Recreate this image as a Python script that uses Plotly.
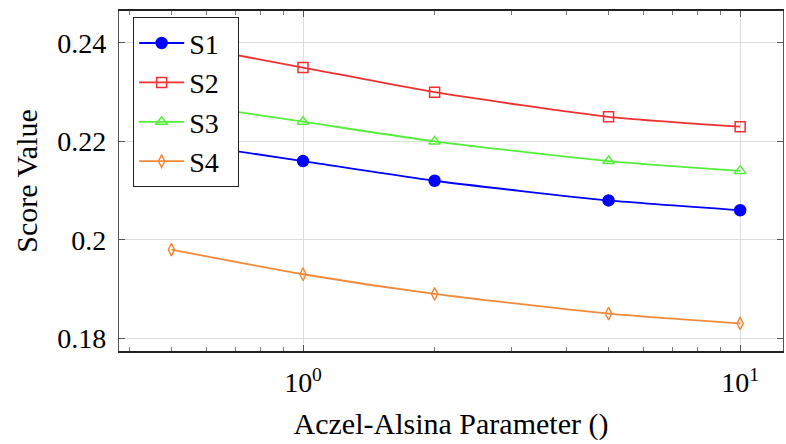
import plotly.graph_objects as go

x_vals = [0.5, 1, 2, 5, 10]
s1 = [0.220, 0.216, 0.212, 0.208, 0.206]
s2 = [0.240, 0.235, 0.230, 0.225, 0.223]
s3 = [0.228, 0.224, 0.220, 0.216, 0.214]
s4 = [0.198, 0.193, 0.189, 0.185, 0.183]
series_names = ["S1", "S2", "S3", "S4"]
y_ticks = [0.18, 0.2, 0.22, 0.24]
y_tick_text = ["0.18", "0.2", "0.22", "0.24"]
x_ticks = [1, 10]
x_tick_text = ["10<sup>0</sup>", "10<sup>1</sup>"]
x_minor = [0.4, 0.5, 0.6, 0.7, 0.8, 0.9, 2, 3, 4, 5, 6, 7, 8, 9]

styles = [
    dict(color="#0000ff", symbol="circle", size=11),
    dict(color="#f03030", symbol="square-open", size=10),
    dict(color="#55ee3a", symbol="triangle-up-open", size=10),
    dict(color="#f28a3c", symbol="diamond-tall-open", size=9),
]

FONT = "Liberation Serif"
fig = go.Figure()
for name, ys, st in zip(series_names, [s1, s2, s3, s4], styles):
    fig.add_trace(go.Scatter(
        x=x_vals, y=ys, name=name + "\u00a0\u00a0", mode="lines+markers",
        line=dict(color=st["color"], width=1.8, shape="spline", smoothing=0.6),
        marker=dict(symbol=st["symbol"], size=st["size"], color=st["color"],
                    line=dict(color=st["color"], width=1.5)),
    ))

fig.update_layout(
    width=786, height=444,
    margin=dict(l=119, r=3, t=11, b=93),
    paper_bgcolor="white", plot_bgcolor="white",
    font=dict(family=FONT, size=28, color="black"),
    showlegend=True,
    legend=dict(x=0.021, y=0.982, xanchor="left", yanchor="top",
                bordercolor="#222", borderwidth=1.2, bgcolor="white",
                font=dict(family=FONT, size=28), itemwidth=45, tracegroupgap=0),
)
fig.update_xaxes(
    type="log", range=[-0.421, 1.098], automargin=False,
    tickvals=x_ticks, ticktext=x_tick_text,
    ticks="inside", ticklen=6, tickcolor="#555",
    minor=dict(tickvals=x_minor, ticks="inside", ticklen=4, tickcolor="#777", showgrid=False),
    showgrid=True, gridcolor="#dddddd", gridwidth=1.2,
    showline=True, linecolor="#222", linewidth=1.5, mirror="allticks",
    title=dict(text="Aczel-Alsina Parameter ()", font=dict(family=FONT, size=30), standoff=16),
    tickfont=dict(family=FONT, size=28), ticklabelstandoff=6, zeroline=False,
)
fig.update_yaxes(
    range=[0.1774, 0.2465], automargin=False,
    tickvals=y_ticks, ticktext=y_tick_text,
    ticks="inside", ticklen=6, tickcolor="#555",
    showgrid=True, gridcolor="#dddddd", gridwidth=1.2,
    showline=True, linecolor="#555", linewidth=1.2, mirror="allticks",
    title=dict(text="Score Value", font=dict(family=FONT, size=30), standoff=10),
    tickfont=dict(family=FONT, size=28), ticklabelstandoff=6, zeroline=False,
)
fig.write_html("out.html", config={"displayModeBar": False},
               post_script="document.body.style.margin='0';document.body.style.overflow='hidden';")
